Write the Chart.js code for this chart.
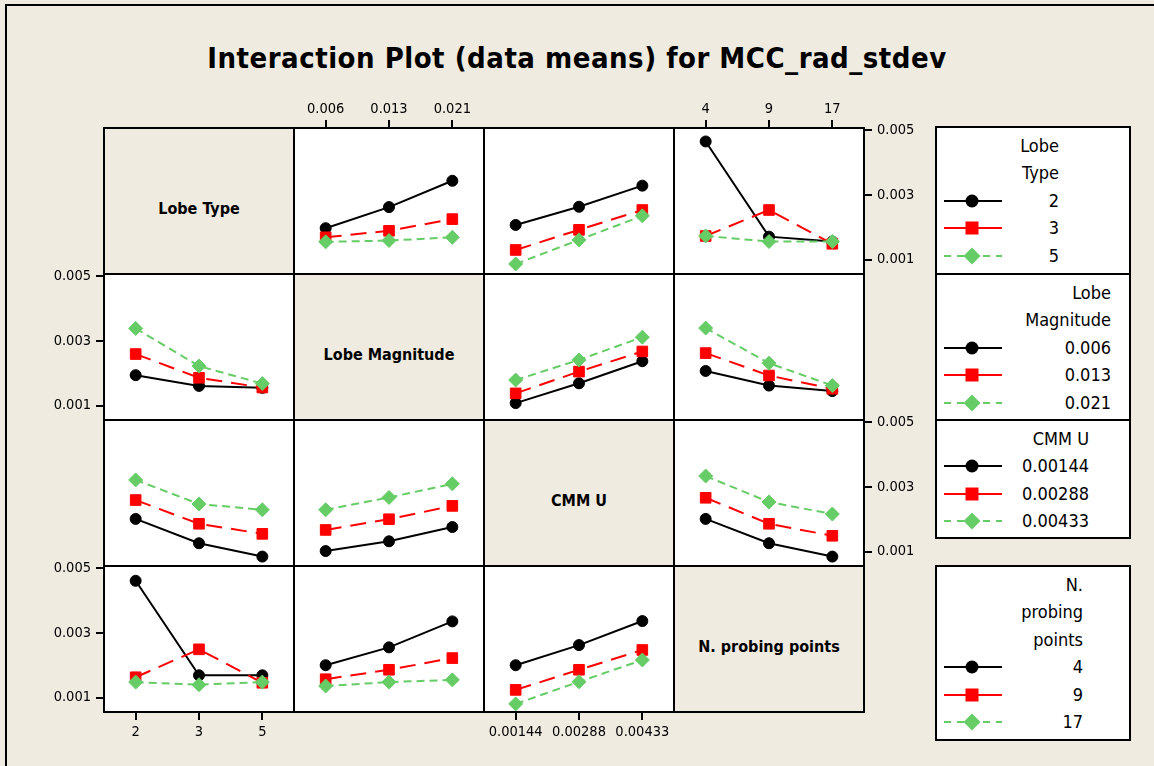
<!DOCTYPE html>
<html>
<head>
<meta charset="utf-8">
<script src="https://cdn.jsdelivr.net/npm/chart.js@4.4.1/dist/chart.umd.min.js"></script>
<style>
  body {
    margin: 0;
    width: 1154px;
    height: 766px;
    overflow: hidden;
    position: relative;
    background: #EFEBE1;
    font-family: "DejaVu Sans Condensed", "DejaVu Sans", sans-serif;
    font-stretch: condensed;
    color: #000;
  }
  #cadre {
    position: absolute;
    left: 5px;
    top: 4px;
    width: 1220px;
    height: 820px;
    border: 2px solid #000;
  }
  #titre {
    position: absolute;
    left: 0;
    top: 38px;
    width: 1154px;
    height: 40px;
    line-height: 40px;
    text-align: center;
    font-weight: bold;
    font-size: 29px;
    letter-spacing: 0.5px;
    white-space: nowrap;
  }
  .cellule {
    position: absolute;
    box-sizing: border-box;
    border: 2px solid #000;
    background: #fff;
  }
  .cellule.diag {
    background: #EFEBE1;
    display: flex;
    align-items: center;
    justify-content: center;
    font-weight: bold;
    font-size: 16px;
    padding-top: 14px;
  }
  canvas.panneau {
    position: absolute;
  }
  .legende {
    position: absolute;
    box-sizing: border-box;
    border: 2px solid #000;
    background: #fff;
  }
  .texte {
    position: absolute;
    height: 24px;
    line-height: 24px;
    font-size: 18px;
    text-align: right;
    white-space: nowrap;
  }
  svg.marque {
    position: absolute;
  }
</style>
</head>
<body>
<div id="cadre"></div>
<div id="titre">Interaction Plot (data means) for MCC_rad_stdev</div>
<script>
// Facteurs et niveaux
const nomsFacteurs = ['Lobe Type', 'Lobe Magnitude', 'CMM U', 'N. probing points'];
const titresLegende = [['Lobe', 'Type'], ['Lobe', 'Magnitude'], ['CMM U'], ['N.', 'probing', 'points']];
const niveauxLobeType = ['2', '3', '5'];
const niveauxLobeMag = ['0.006', '0.013', '0.021'];
const niveauxCmm = ['0.00144', '0.00288', '0.00433'];
const niveauxPoints = ['4', '9', '17'];

// Axe Y commun
const yMin = 0.00056;
const yMax = 0.005055;
const yTicks = [0.001, 0.003, 0.005];

// Moyennes : une ligne par niveau du facteur de la rangée, sur les niveaux du facteur de la colonne
const lobeTypeParMag = [[0.00197, 0.00262, 0.00343], [0.00169, 0.00189, 0.00225], [0.00155, 0.00159, 0.00169]];
const lobeTypeParCmm = [[0.00207, 0.00263, 0.00328], [0.00130, 0.00192, 0.00253], [0.00087, 0.00161, 0.00235]];
const lobeTypeParPoints = [[0.00464, 0.00171, 0.00156], [0.00173, 0.00253, 0.00149], [0.00173, 0.00156, 0.00156]];
const lobeMagParType = [[0.00194, 0.00161, 0.00155], [0.00259, 0.00186, 0.00156], [0.00338, 0.00222, 0.00168]];
const lobeMagParCmm = [[0.00108, 0.00169, 0.00237], [0.00138, 0.00205, 0.00267], [0.00179, 0.00241, 0.00311]];
const lobeMagParPoints = [[0.00207, 0.00162, 0.00145], [0.00262, 0.00193, 0.00152], [0.00339, 0.00231, 0.00162]];
const cmmParType = [[0.00201, 0.00126, 0.00085], [0.00259, 0.00186, 0.00155], [0.00321, 0.00247, 0.00229]];
const cmmParMag = [[0.00102, 0.00132, 0.00176], [0.00167, 0.00200, 0.00241], [0.00229, 0.00267, 0.00309]];
const cmmParPoints = [[0.00201, 0.00126, 0.00085], [0.00266, 0.00186, 0.00149], [0.00333, 0.00253, 0.00216]];
const pointsParType = [[0.00460, 0.00169, 0.00169], [0.00163, 0.00249, 0.00146], [0.00148, 0.00140, 0.00148]];
const pointsParMag = [[0.00200, 0.00255, 0.00335], [0.00157, 0.00186, 0.00222], [0.00136, 0.00148, 0.00155]];
const pointsParCmm = [[0.00200, 0.00262, 0.00336], [0.00124, 0.00186, 0.00247], [0.00081, 0.00149, 0.00216]];

const niveaux = [niveauxLobeType, niveauxLobeMag, niveauxCmm, niveauxPoints];
const moyennes = [
    [null, lobeTypeParMag, lobeTypeParCmm, lobeTypeParPoints],
    [lobeMagParType, null, lobeMagParCmm, lobeMagParPoints],
    [cmmParType, cmmParMag, null, cmmParPoints],
    [pointsParType, pointsParMag, pointsParCmm, null]
];

// Styles des séries
const couleurs = ['#000000', '#FF0000', '#66CC66'];
const tirets = [[], [16, 9], [8, 5]];
const formes = ['circle', 'rect', 'rectRot'];
const rayons = [5.5, 7.5, 7];

// Géométrie de la grille
const grilleX = 104, grilleY = 128, largeurCase = 190, hauteurCase = 146;
const mG = 70, mD = 70, mH = 30, mB = 40;
const policeTicks = { family: '"DejaVu Sans Condensed", "Liberation Sans", sans-serif', size: 14.5 };

function axeX(position, visible) {
    return {
        type: 'category',
        position: position,
        offset: true,
        grid: { display: visible, offset: false, drawOnChartArea: false, drawTicks: true, tickLength: 8, tickWidth: 2, lineWidth: 2, tickColor: '#000' },
        border: { display: false },
        ticks: { display: visible, color: '#000', font: policeTicks, padding: position === 'top' ? 2 : 4, maxRotation: 0, autoSkip: false },
        afterFit: s => { s.height = position === 'top' ? mH : mB; }
    };
}

function axeY(position, visible) {
    return {
        type: 'linear',
        position: position,
        min: yMin,
        max: yMax,
        afterBuildTicks: s => { s.ticks = yTicks.map(v => ({ value: v })); },
        grid: { display: visible, drawOnChartArea: false, drawTicks: true, tickLength: 8, tickWidth: 2, lineWidth: 2, tickColor: '#000' },
        border: { display: false },
        ticks: { display: visible, color: '#000', font: policeTicks, padding: 5, callback: v => v.toFixed(3) },
        afterFit: s => { s.width = position === 'left' ? mG : mD; }
    };
}

// Cases de la grille
for (let r = 0; r < 4; r++) {
    for (let c = 0; c < 4; c++) {
        const div = document.createElement('div');
        div.className = r === c ? 'cellule diag' : 'cellule';
        div.style.left = (grilleX - 1 + c * largeurCase) + 'px';
        div.style.top = (grilleY - 1 + r * hauteurCase) + 'px';
        div.style.width = (largeurCase + 2) + 'px';
        div.style.height = (hauteurCase + 2) + 'px';
        if (r === c) div.textContent = nomsFacteurs[r];
        document.body.appendChild(div);
    }
}

// Panneaux d'interaction
for (let r = 0; r < 4; r++) {
    for (let c = 0; c < 4; c++) {
        if (r === c) continue;
        const canvas = document.createElement('canvas');
        canvas.className = 'panneau';
        canvas.width = largeurCase + mG + mD;
        canvas.height = hauteurCase + mH + mB;
        canvas.style.left = (grilleX + c * largeurCase - mG) + 'px';
        canvas.style.top = (grilleY + r * hauteurCase - mH) + 'px';
        document.body.appendChild(canvas);

        const gauche = c === 0 && r % 2 === 1;
        const droite = c === 3 && r % 2 === 0;
        const haut = r === 0 && c % 2 === 1;
        const bas = r === 3 && c % 2 === 0;

        new Chart(canvas, {
            type: 'line',
            data: {
                labels: niveaux[c],
                datasets: moyennes[r][c].map((vals, i) => ({
                    label: niveaux[r][i],
                    data: vals,
                    borderColor: couleurs[i],
                    backgroundColor: couleurs[i],
                    borderDash: tirets[i],
                    borderWidth: 2,
                    pointStyle: formes[i],
                    pointRadius: rayons[i],
                    pointHoverRadius: rayons[i],
                    pointBorderWidth: 1,
                    tension: 0,
                    order: 2 - i
                }))
            },
            options: {
                responsive: false,
                animation: false,
                events: [],
                layout: { padding: 0 },
                plugins: { legend: { display: false }, tooltip: { enabled: false } },
                scales: {
                    x: axeX('bottom', bas),
                    xHaut: axeX('top', haut),
                    y: axeY('left', gauche),
                    yDroite: axeY('right', droite)
                }
            }
        });
    }
}

// Légendes
const boites = [
    { haut: 126, hauteur: 149, bord: 1059 },
    { haut: 273, hauteur: 148, bord: 1111 },
    { haut: 419, hauteur: 120, bord: 1089 },
    { haut: 565, hauteur: 176, bord: 1083 }
];

function marque(i) {
    const c = couleurs[i];
    let trait = `<line x1="0" y1="10" x2="58" y2="10" stroke="${c}" stroke-width="2"${i === 2 ? ' stroke-dasharray="7 6"' : ''}/>`;
    let forme;
    if (i === 0) forme = `<circle cx="28" cy="10" r="6.5" fill="${c}"/>`;
    else if (i === 1) forme = `<rect x="21.5" y="3.5" width="13" height="13" fill="${c}"/>`;
    else forme = `<polygon points="28,1.5 36.5,10 28,18.5 19.5,10" fill="${c}"/>`;
    return trait + forme;
}

boites.forEach((b, k) => {
    const boite = document.createElement('div');
    boite.className = 'legende';
    boite.style.left = '935px';
    boite.style.width = '196px';
    boite.style.top = b.haut + 'px';
    boite.style.height = b.hauteur + 'px';
    document.body.appendChild(boite);

    const lignes = titresLegende[k].concat(niveaux[k]);
    const premier = b.haut + 20;
    lignes.forEach((txt, j) => {
        const yc = premier + j * 27.4;
        const t = document.createElement('div');
        t.className = 'texte';
        t.textContent = txt;
        t.style.right = (1154 - b.bord) + 'px';
        t.style.top = (yc - 12) + 'px';
        document.body.appendChild(t);
        const idx = j - titresLegende[k].length;
        if (idx >= 0) {
            const svg = document.createElementNS('http://www.w3.org/2000/svg', 'svg');
            svg.setAttribute('class', 'marque');
            svg.setAttribute('width', '58');
            svg.setAttribute('height', '20');
            svg.style.left = '944px';
            svg.style.top = (yc - 10) + 'px';
            svg.innerHTML = marque(idx);
            document.body.appendChild(svg);
        }
    });
});
</script>
</body>
</html>
